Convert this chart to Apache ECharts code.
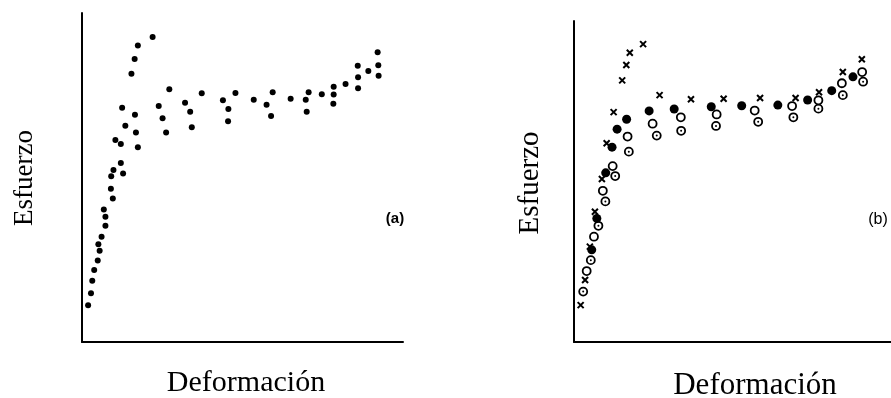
<!DOCTYPE html>
<html>
<head>
<meta charset="utf-8">
<script src="https://cdn.jsdelivr.net/npm/echarts@6/dist/echarts.min.js"></script>
<style>
  html, body { margin: 0; padding: 0; background: #fff; }
  #chart { width: 891px; height: 398px; }
</style>
</head>
<body>
<div id="chart"></div>
<script>
// (a) single set of measurements: [deformación, esfuerzo], arbitrary units 0-100
const pointsA = [
  [22.0, 92.7], [17.4, 90.1], [16.4, 86.0], [15.4, 81.5], [27.2, 76.8],
  [37.3, 75.6], [47.8, 75.7], [59.4, 75.9], [70.6, 75.9], [74.7, 75.3],
  [78.4, 77.6], [78.4, 75.2], [82.1, 78.4], [85.9, 84.0], [86.0, 80.5],
  [86.0, 77.1], [89.2, 82.4], [92.1, 88.1], [92.3, 84.1], [92.4, 80.9],
  [12.5, 71.2], [23.9, 71.7], [32.1, 72.7], [43.9, 73.5], [53.5, 73.6],
  [57.5, 72.1], [65.0, 73.9], [69.7, 73.6], [78.3, 72.4], [16.5, 69.1],
  [25.1, 68.0], [33.7, 70.0], [45.6, 70.8], [58.9, 68.7], [70.0, 70.0],
  [13.5, 65.7], [34.2, 65.3], [45.5, 67.1], [16.8, 63.7], [26.2, 63.7],
  [10.4, 61.4], [12.1, 60.2], [17.4, 59.2], [12.1, 54.4], [9.8, 52.3],
  [12.8, 51.2], [9.1, 50.4], [9.0, 46.6], [9.6, 43.6], [6.8, 40.3],
  [7.3, 38.1], [7.3, 35.3], [6.1, 32.0], [5.1, 29.7], [5.5, 27.7],
  [4.9, 24.8], [3.8, 21.9], [3.2, 18.6], [2.8, 14.8], [1.9, 11.2]
];

// (b) four groups of measurements
const crossesB = [
  [21.8, 92.8], [17.6, 90.1], [16.5, 86.3], [15.2, 81.5], [27.0, 76.9],
  [36.9, 75.6], [47.2, 75.8], [58.7, 76.0], [69.9, 76.0], [77.3, 77.8],
  [84.8, 84.1], [90.8, 88.1], [12.5, 71.6], [10.3, 61.9], [8.8, 50.8],
  [6.6, 40.6], [5.0, 29.7], [3.5, 19.3], [2.1, 11.5]
];
const filledB = [
  [88.0, 82.6], [81.3, 78.3], [73.7, 75.4], [64.3, 73.8], [52.9, 73.6],
  [43.3, 73.3], [31.6, 72.6], [23.7, 72.0], [16.6, 69.4], [13.6, 66.3],
  [12.0, 60.7], [10.0, 52.7], [7.2, 38.5], [5.6, 28.7]
];
const openB = [
  [90.9, 84.1], [84.5, 80.6], [77.1, 75.3], [68.8, 73.5], [57.0, 72.1],
  [45.0, 70.9], [33.7, 70.0], [24.8, 68.0], [16.9, 64.0], [12.2, 54.8],
  [9.1, 47.1], [6.3, 32.8], [4.0, 22.1]
];
const dottedB = [
  [91.2, 81.1], [84.8, 76.9], [77.1, 72.7], [69.2, 70.0], [58.1, 68.6],
  [44.8, 67.3], [33.8, 65.8], [26.1, 64.3], [17.3, 59.3], [13.0, 51.7],
  [9.9, 43.8], [7.7, 36.2], [5.3, 25.5], [2.9, 15.7]
];

const labelX = 'Deformación'
const labelY = 'Esfuerzo'
const ink = '#000'

const chart = echarts.init(document.getElementById('chart'), null, { renderer: 'canvas' })

const axisLine = { show: true, onZero: false, lineStyle: { color: ink, width: 2 } }
const bareAxis = {
  type: 'value', min: 0, max: 100,
  axisLine: axisLine,
  axisTick: { show: false },
  axisLabel: { show: false },
  splitLine: { show: false }
}

const crossPath = 'path://M0,0L10,10M10,0L0,10'

const option = {
  animation: false,
  backgroundColor: '#fff',
  grid: [
    { left: 82, top: 13, width: 321, height: 329 },
    { left: 574, top: 21, width: 317, height: 321 }
  ],
  xAxis: [
    Object.assign({ gridIndex: 0 }, bareAxis),
    Object.assign({ gridIndex: 1 }, bareAxis)
  ],
  yAxis: [
    Object.assign({ gridIndex: 0 }, bareAxis),
    Object.assign({ gridIndex: 1 }, bareAxis)
  ],
  series: [
    {
      name: '(a)', type: 'scatter', xAxisIndex: 0, yAxisIndex: 0,
      data: pointsA, symbol: 'circle', symbolSize: 6,
      itemStyle: { color: ink, opacity: 1 }
    },
    {
      name: 'x', type: 'scatter', xAxisIndex: 1, yAxisIndex: 1,
      data: crossesB, symbol: crossPath, symbolSize: 6,
      itemStyle: { color: 'transparent', borderColor: ink, borderWidth: 2, opacity: 1 }
    },
    {
      name: 'dotted', type: 'scatter', xAxisIndex: 1, yAxisIndex: 1,
      data: dottedB, symbol: 'circle', symbolSize: 8,
      itemStyle: { color: '#fff', borderColor: ink, borderWidth: 1.8, opacity: 1 }
    },
    {
      name: 'dotted-centre', type: 'scatter', xAxisIndex: 1, yAxisIndex: 1,
      data: dottedB, symbol: 'circle', symbolSize: 2,
      itemStyle: { color: ink, opacity: 1 }
    },
    {
      name: 'open', type: 'scatter', xAxisIndex: 1, yAxisIndex: 1,
      data: openB, symbol: 'circle', symbolSize: 8,
      itemStyle: { color: '#fff', borderColor: ink, borderWidth: 1.8, opacity: 1 }
    },
    {
      name: 'filled', type: 'scatter', xAxisIndex: 1, yAxisIndex: 1,
      data: filledB, symbol: 'circle', symbolSize: 9,
      itemStyle: { color: ink, opacity: 1 }
    }
  ],
  graphic: [
    { type: 'text', x: 25, y: 178, rotation: Math.PI / 2,
      style: { text: labelY, font: '27px "Liberation Serif"', fill: ink, align: 'center', verticalAlign: 'middle' } },
    { type: 'text', x: 246, y: 383,
      style: { text: labelX, font: '30px "Liberation Serif"', fill: ink, align: 'center', verticalAlign: 'middle' } },
    { type: 'text', x: 530, y: 183, rotation: Math.PI / 2,
      style: { text: labelY, font: '29px "Liberation Serif"', fill: ink, align: 'center', verticalAlign: 'middle' } },
    { type: 'text', x: 755, y: 386,
      style: { text: labelX, font: '31px "Liberation Serif"', fill: ink, align: 'center', verticalAlign: 'middle' } },
    { type: 'text', x: 395, y: 219,
      style: { text: '(a)', font: 'bold 15px "Liberation Sans"', fill: ink, align: 'center', verticalAlign: 'middle' } },
    { type: 'text', x: 878, y: 220,
      style: { text: '(b)', font: '16px "Liberation Sans"', fill: ink, align: 'center', verticalAlign: 'middle' } }
  ]
}

chart.setOption(option)
</script>
</body>
</html>
